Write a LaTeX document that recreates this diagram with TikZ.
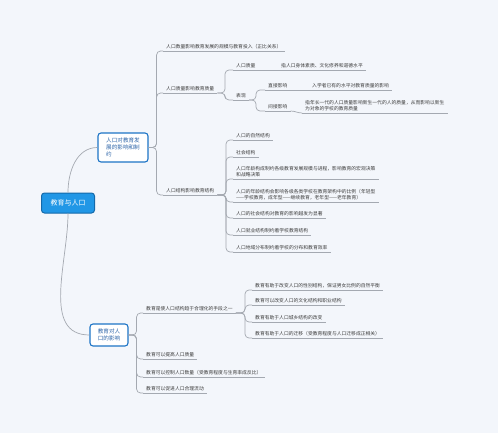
\documentclass[tikz,border=0pt]{standalone}
\usepackage{fontspec}
\setmainfont{Noto Sans CJK SC}
\definecolor{cbg}{HTML}{F3F6FB}
\definecolor{cline}{HTML}{A4A9B1}
\definecolor{ctext}{HTML}{3C3C3C}
\definecolor{croot}{HTML}{2197E6}
\definecolor{crootdk}{HTML}{1469AA}
\definecolor{cbranch}{HTML}{1C74C6}
\definecolor{cbranchtx}{HTML}{2C64A8}
\tikzset{
  rootbox/.style={draw=crootdk, fill=croot, rounded corners=3pt, line width=1pt, text=white,
    minimum width=53pt, minimum height=20pt, font=\fontsize{7}{8}\selectfont},
  branchbox/.style={draw=cbranch, fill=white, rounded corners=3pt, line width=1.1pt, text=cbranchtx,
    align=left, inner sep=3pt, font=\fontsize{5.6}{6.8}\selectfont},
  topic/.style={anchor=south west, inner xsep=3pt, inner ysep=1.6pt, text=ctext, align=left,
    font=\fontsize{4.8}{6.2}\selectfont},
  link/.style={draw=cline, line width=0.7pt, rounded corners=4pt},
  uline/.style={draw=cline, line width=0.7pt},
}

\begin{document}
\begin{tikzpicture}[x=1pt, y=-1pt]
  \fill[cbg] (0,0) rectangle (498,433);
  \useasboundingbox (0,0) rectangle (498,433);
  % centre and the two main topics
  \node[rootbox] (root) at (68,203) {教育与人口};
  \node[branchbox, minimum width=50pt, minimum height=29pt] (b1) at (123,147.5) {人口对教育发\\展的影响和制\\约};
  \node[branchbox, minimum width=38pt, minimum height=22pt] (b2) at (109,335) {教育对人\\口的影响};
  \draw[link] (root.north) to[out=90, in=180] (b1.west);
  \draw[link] (root.south) to[out=-90, in=180] (b2.west);
  % first branch
  \node[topic] (c1) at (163,51) {人口数量影响教育发展的规模与教育投入（正比关系）};
  \node[topic] (c2) at (163,93) {人口质量影响教育质量};
  \node[topic] (c3) at (163,195) {人口结构影响教育结构};
  \node[topic] (q1) at (233,70) {人口质量};
  \node[topic] (q1d) at (278,70) {指人口身体素质、文化修养和道德水平};
  \node[topic] (q2) at (233,100) {表现};
  \node[topic] (q2a) at (265,90) {直接影响};
  \node[topic] (q2ad) at (309,90) {入学者已有的水平对教育质量的影响};
  \node[topic] (q2b) at (265,111) {间接影响};
  \node[topic] (q2bd) at (302,113) {指年长一代的人口质量影响新生一代的人的质量，从而影响以新生\\为对象的学校的教育质量};
  \node[topic] (s1) at (233,140) {人口的自然结构};
  \node[topic] (s2) at (233,157) {社会结构};
  \node[topic] (s3) at (233,179) {人口年龄构成制约各级教育发展规模与进程，影响教育的宏观决策\\和战略决策};
  \node[topic] (s4) at (233,202) {人口的年龄结构会影响各级各类学校在教育架构中的比例（年轻型\\——学校教育，成年型——继续教育，老年型——老年教育）};
  \node[topic] (s5) at (233,218) {人口的社会结构对教育的影响越发为显著};
  \node[topic] (s6) at (233,235) {人口就业结构制约着学校教育结构};
  \node[topic] (s7) at (233,252) {人口地域分布制约着学校的分布和教育效率};
  % second branch
  \node[topic] (d1) at (143,313) {教育是使人口结构趋于合理化的手段之一};
  \node[topic] (d2) at (143,359) {教育可以提高人口质量};
  \node[topic] (d3) at (143,377) {教育可以控制人口数量（受教育程度与生育率成反比）};
  \node[topic] (d4) at (143,393) {教育可以促进人口合理流动};
  \node[topic] (e1) at (252,290) {教育有助于改变人口的性别结构，保证男女比例的自然平衡};
  \node[topic] (e2) at (252,305) {教育可以改变人口的文化结构和职业结构};
  \node[topic] (e3) at (252,322) {教育有助于人口城乡结构的改变};
  \node[topic] (e4) at (252,338) {教育有助于人口的迁移（受教育程度与人口迁移成正相关）};
  \foreach \n in {c1,c2,c3,q1,q1d,q2,q2a,q2ad,q2b,q2bd,s1,s2,s3,s4,s5,s6,s7,d1,d2,d3,d4,e1,e2,e3,e4}
    \draw[uline] (\n.south west) -- (\n.south east);
  \foreach \t in {c1,c2,c3}
    \draw[link] (b1.east) -- ++(8,0) |- (\t.south west);
  \foreach \t in {q1,q2}
    \draw[link] (c2.south east) -- (225,93) |- (\t.south west);
  \foreach \t in {q2a,q2b}
    \draw[link] (q2.south east) -- (256,100) |- (\t.south west);
  \foreach \t in {s1,s2,s3,s4,s5,s6,s7}
    \draw[link] (c3.south east) -- (226,195) |- (\t.south west);
  \foreach \t in {d1,d2,d3,d4}
    \draw[link] (b2.east) -- ++(8,0) |- (\t.south west);
  \foreach \t in {e1,e2,e3,e4}
    \draw[link] (d1.south east) -- (245,313) |- (\t.south west);
  \draw[link] (q1.south east) -- (q1d.south west);
  \draw[link] (q2a.south east) -- (q2ad.south west);
  \draw[link] (q2b.south east) to[out=0, in=180] (q2bd.south west);
\end{tikzpicture}
\end{document}
